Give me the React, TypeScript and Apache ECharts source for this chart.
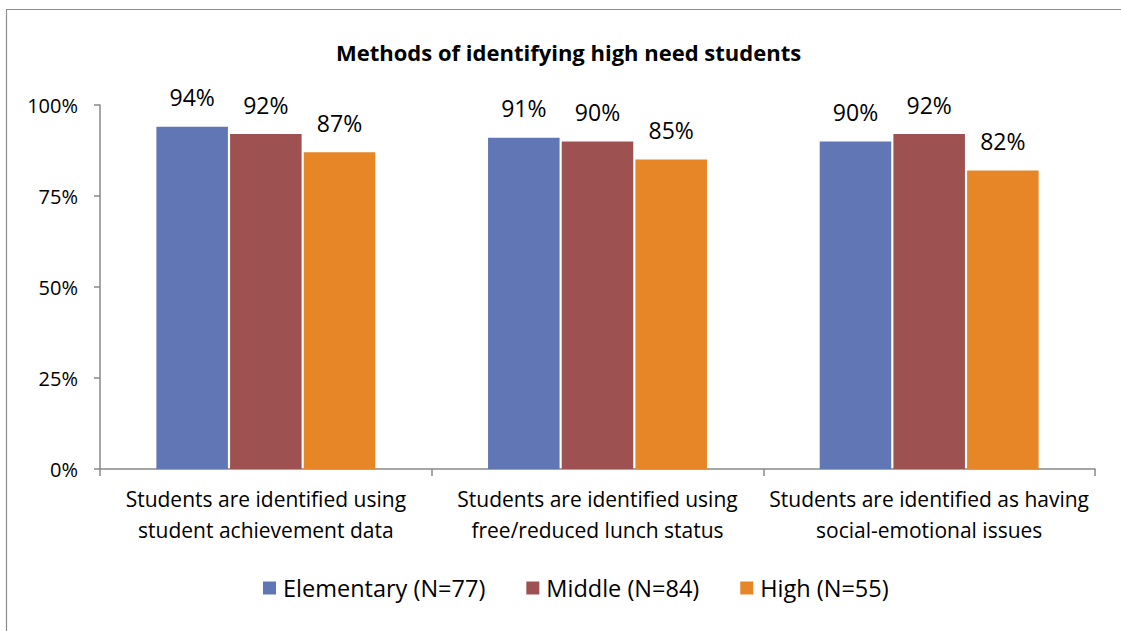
import React, { useEffect, useRef } from "react";
import * as echarts from "echarts";

const categories = [
  "Students are identified using\nstudent achievement data",
  "Students are identified using\nfree/reduced lunch status",
  "Students are identified as having\nsocial-emotional issues",
];
const seriesNames = ["Elementary (N=77)", "Middle (N=84)", "High (N=55)"];
const elementary = [94, 91, 90];
const middle = [92, 90, 92];
const high = [87, 85, 82];
const colors = ["#6177B5", "#9D5151", "#E68626"];
const yTicks = [0, 25, 50, 75, 100];

const FONT = "'Open Sans', Lato, sans-serif";

export default function App() {
  const ref = useRef<HTMLDivElement>(null);
  useEffect(() => {
    if (!ref.current) return;
    const chart = echarts.init(ref.current, null, { renderer: "svg" });
    const values = [elementary, middle, high];
    chart.setOption({
      animation: false,
      backgroundColor: "#ffffff",
      textStyle: { fontFamily: FONT },
      graphic: [
        {
          type: "rect",
          left: 4,
          top: 7,
          shape: { x: 0, y: 0, width: 1140, height: 640 },
          style: { fill: "none", stroke: "#8c8c8c", lineWidth: 1.2 },
          silent: true,
        },
      ],
      title: {
        text: "Methods of identifying high need students",
        left: 331,
        top: 36,
        textStyle: { fontFamily: FONT, fontSize: 22, fontWeight: "bold", color: "#000" },
      },
      legend: {
        bottom: 26,
        left: 258,
        itemWidth: 13,
        itemHeight: 13,
        itemGap: 41,
        icon: "rect",
        textStyle: { fontFamily: FONT, fontSize: 23.5, color: "#000", padding: [0, 0, 0, 2] },
        data: seriesNames,
      },
      grid: { left: 100, right: 26, top: 105, bottom: 162, containLabel: false },
      xAxis: {
        type: "category",
        data: categories,
        axisLine: { lineStyle: { color: "#888", width: 1.5 } },
        axisTick: { show: true, length: 7, alignWithLabel: false, lineStyle: { color: "#888", width: 1.5 } },
        axisLabel: { fontFamily: FONT, fontSize: 21, color: "#000", lineHeight: 31, margin: 14, interval: 0 },
      },
      yAxis: {
        type: "value",
        min: 0,
        max: 100,
        interval: 25,
        axisLine: { show: true, lineStyle: { color: "#888", width: 1.5 } },
        axisTick: { show: true, length: 6, lineStyle: { color: "#888", width: 1.5 } },
        splitLine: { show: false },
        axisLabel: {
          fontFamily: FONT,
          fontSize: 20,
          color: "#000",
          margin: 22,
          formatter: (v: number) => (yTicks.includes(v) ? v + "%" : ""),
        },
      },
      series: seriesNames.map((name, i) => ({
        name,
        type: "bar",
        data: values[i],
        barGap: "3%",
        barCategoryGap: "34%",
        itemStyle: { color: colors[i] },
        label: {
          show: true,
          position: "top",
          distance: 18,
          formatter: "{c}%",
          fontFamily: FONT,
          fontSize: 23,
          color: "#000",
        },
      })),
    });
    return () => chart.dispose();
  }, []);
  return (
    <div
      ref={ref}
      style={{ position: "absolute", left: 0, top: 0, width: 1121, height: 631 }}
    />
  );
}
